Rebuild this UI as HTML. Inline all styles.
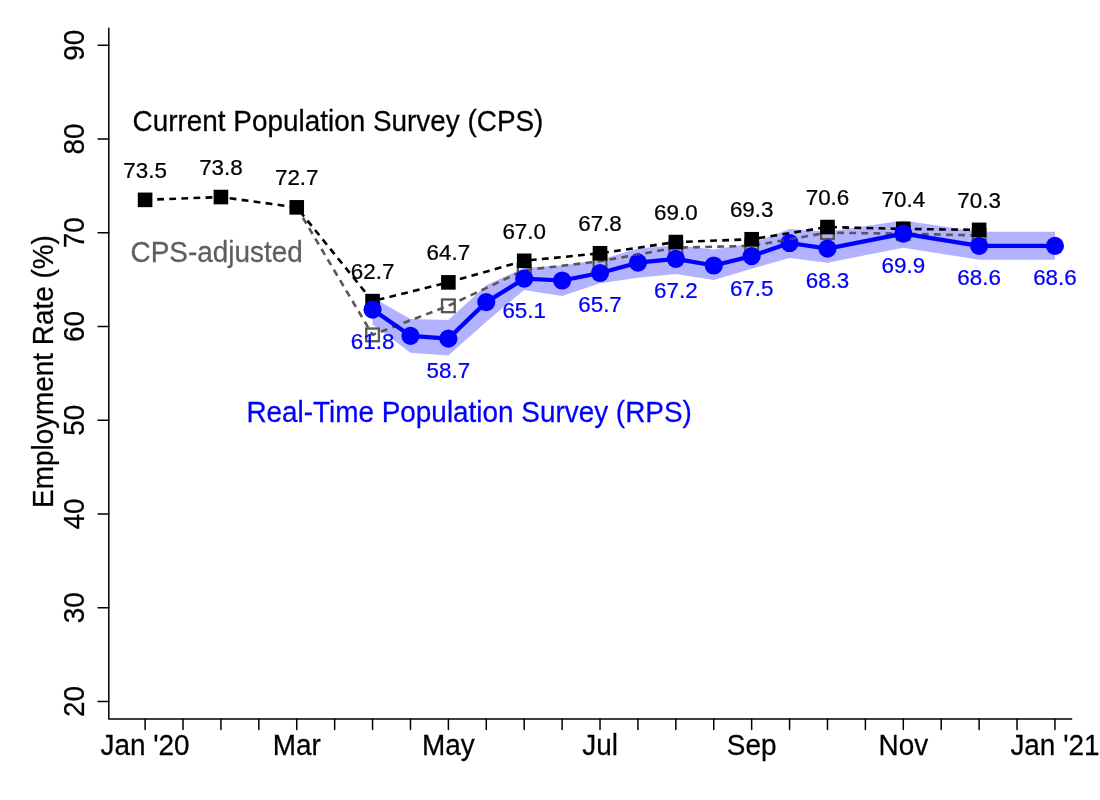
<!DOCTYPE html>
<html lang="en">
<head>
<meta charset="utf-8">
<title>Employment Rate: CPS vs RPS</title>
<style>
html,body{margin:0;padding:0;background:#fff;}
body{width:1100px;height:800px;overflow:hidden;}
svg{display:block;will-change:transform;}
text{font-family:"Liberation Sans", Arial, Helvetica, sans-serif;}
.ax{font-size:27.9px;fill:#000;stroke:#000;stroke-width:0.25px;}
.dl{font-size:22.4px;text-anchor:middle;stroke-width:0.25px;}
</style>
</head>
<body>
<svg width="1100" height="800" viewBox="0 0 1100 800">
<polygon fill="#0000ff" fill-opacity="0.3" points="372.56,297.38 410.47,318.94 448.38,319.88 486.29,285.19 524.2,267.84 562.11,265.5 600.02,259.87 637.93,248.62 675.84,245.34 713.75,249.56 751.66,243.46 789.57,228.93 827.48,231.74 903.3,220.49 979.12,231.74 1054.94,231.74 1054.94,259.87 979.12,259.87 903.3,247.68 827.48,262.68 789.57,258 751.66,268.78 713.75,280.03 675.84,273.94 637.93,277.69 600.02,283.31 562.11,295.97 524.2,289.88 486.29,321.76 448.38,355.51 410.47,352.7 372.56,324.57"/>
<polyline fill="none" stroke="#575757" stroke-width="2.6" stroke-dasharray="6.8 5.3" stroke-linecap="butt" stroke-linejoin="round" points="296.74,207.36 372.56,334.88 448.38,305.82 524.2,270.19 600.02,261.28 675.84,247.68 751.66,245.81 827.48,232.68 903.3,233.62 979.12,235.49"/>
<rect x="366.21" y="328.53" width="12.7" height="12.7" fill="none" stroke="#575757" stroke-width="2.3"/>
<rect x="442.03" y="299.47" width="12.7" height="12.7" fill="none" stroke="#575757" stroke-width="2.3"/>
<rect x="517.85" y="263.84" width="12.7" height="12.7" fill="none" stroke="#575757" stroke-width="2.3"/>
<rect x="593.67" y="254.93" width="12.7" height="12.7" fill="none" stroke="#575757" stroke-width="2.3"/>
<rect x="669.49" y="241.33" width="12.7" height="12.7" fill="none" stroke="#575757" stroke-width="2.3"/>
<rect x="745.31" y="239.46" width="12.7" height="12.7" fill="none" stroke="#575757" stroke-width="2.3"/>
<rect x="821.13" y="226.33" width="12.7" height="12.7" fill="none" stroke="#575757" stroke-width="2.3"/>
<rect x="896.95" y="227.27" width="12.7" height="12.7" fill="none" stroke="#575757" stroke-width="2.3"/>
<rect x="972.77" y="229.14" width="12.7" height="12.7" fill="none" stroke="#575757" stroke-width="2.3"/>
<polyline fill="none" stroke="#000" stroke-width="2.6" stroke-dasharray="6.8 5.3" stroke-linecap="butt" stroke-linejoin="round" points="145.1,199.86 220.92,197.05 296.74,207.36 372.56,301.13 448.38,282.37 524.2,260.81 600.02,253.31 675.84,242.06 751.66,239.24 827.48,227.05 903.3,228.93 979.12,229.87"/>
<rect x="137.8" y="192.56" width="14.6" height="14.6" fill="#000"/>
<rect x="213.62" y="189.75" width="14.6" height="14.6" fill="#000"/>
<rect x="289.44" y="200.06" width="14.6" height="14.6" fill="#000"/>
<rect x="365.26" y="293.83" width="14.6" height="14.6" fill="#000"/>
<rect x="441.08" y="275.07" width="14.6" height="14.6" fill="#000"/>
<rect x="516.9" y="253.51" width="14.6" height="14.6" fill="#000"/>
<rect x="592.72" y="246.01" width="14.6" height="14.6" fill="#000"/>
<rect x="668.54" y="234.76" width="14.6" height="14.6" fill="#000"/>
<rect x="744.36" y="231.94" width="14.6" height="14.6" fill="#000"/>
<rect x="820.18" y="219.75" width="14.6" height="14.6" fill="#000"/>
<rect x="896" y="221.63" width="14.6" height="14.6" fill="#000"/>
<rect x="971.82" y="222.57" width="14.6" height="14.6" fill="#000"/>
<polyline fill="none" stroke="#0000ff" stroke-width="4.25" stroke-linecap="round" stroke-linejoin="round" points="372.56,309.57 410.47,335.82 448.38,338.63 486.29,302.07 524.2,278.62 562.11,280.5 600.02,273 637.93,262.68 675.84,258.93 713.75,265.5 751.66,256.12 789.57,242.99 827.48,248.62 903.3,233.62 979.12,245.81 1054.94,245.81"/>
<circle cx="372.56" cy="309.57" r="9.1" fill="#0000ff"/>
<circle cx="410.47" cy="335.82" r="9.1" fill="#0000ff"/>
<circle cx="448.38" cy="338.63" r="9.1" fill="#0000ff"/>
<circle cx="486.29" cy="302.07" r="9.1" fill="#0000ff"/>
<circle cx="524.2" cy="278.62" r="9.1" fill="#0000ff"/>
<circle cx="562.11" cy="280.5" r="9.1" fill="#0000ff"/>
<circle cx="600.02" cy="273" r="9.1" fill="#0000ff"/>
<circle cx="637.93" cy="262.68" r="9.1" fill="#0000ff"/>
<circle cx="675.84" cy="258.93" r="9.1" fill="#0000ff"/>
<circle cx="713.75" cy="265.5" r="9.1" fill="#0000ff"/>
<circle cx="751.66" cy="256.12" r="9.1" fill="#0000ff"/>
<circle cx="789.57" cy="242.99" r="9.1" fill="#0000ff"/>
<circle cx="827.48" cy="248.62" r="9.1" fill="#0000ff"/>
<circle cx="903.3" cy="233.62" r="9.1" fill="#0000ff"/>
<circle cx="979.12" cy="245.81" r="9.1" fill="#0000ff"/>
<circle cx="1054.94" cy="245.81" r="9.1" fill="#0000ff"/>
<clipPath id="dots"><circle cx="637.93" cy="262.68" r="9.1"/><circle cx="789.57" cy="242.99" r="9.1"/></clipPath>
<polyline clip-path="url(#dots)" opacity="0.55" fill="none" stroke="#6b6b3a" stroke-width="2.6" stroke-dasharray="6.8 5.3" stroke-linecap="butt" stroke-linejoin="round" points="296.74,207.36 372.56,334.88 448.38,305.82 524.2,270.19 600.02,261.28 675.84,247.68 751.66,245.81 827.48,232.68 903.3,233.62 979.12,235.49"/>
<text class="dl" transform="translate(145.1,177.76) scale(1,0.98)" fill="#000" stroke="#000">73.5</text>
<text class="dl" transform="translate(220.92,174.95) scale(1,0.98)" fill="#000" stroke="#000">73.8</text>
<text class="dl" transform="translate(296.74,185.26) scale(1,0.98)" fill="#000" stroke="#000">72.7</text>
<text class="dl" transform="translate(372.56,279.03) scale(1,0.98)" fill="#000" stroke="#000">62.7</text>
<text class="dl" transform="translate(448.38,260.27) scale(1,0.98)" fill="#000" stroke="#000">64.7</text>
<text class="dl" transform="translate(524.2,238.71) scale(1,0.98)" fill="#000" stroke="#000">67.0</text>
<text class="dl" transform="translate(600.02,231.21) scale(1,0.98)" fill="#000" stroke="#000">67.8</text>
<text class="dl" transform="translate(675.84,219.96) scale(1,0.98)" fill="#000" stroke="#000">69.0</text>
<text class="dl" transform="translate(751.66,217.14) scale(1,0.98)" fill="#000" stroke="#000">69.3</text>
<text class="dl" transform="translate(827.48,204.95) scale(1,0.98)" fill="#000" stroke="#000">70.6</text>
<text class="dl" transform="translate(903.3,206.83) scale(1,0.98)" fill="#000" stroke="#000">70.4</text>
<text class="dl" transform="translate(979.12,207.77) scale(1,0.98)" fill="#000" stroke="#000">70.3</text>
<text class="dl" transform="translate(372.56,348.97) scale(1,0.98)" fill="#0000ff" stroke="#0000ff">61.8</text>
<text class="dl" transform="translate(448.38,378.03) scale(1,0.98)" fill="#0000ff" stroke="#0000ff">58.7</text>
<text class="dl" transform="translate(524.2,318.02) scale(1,0.98)" fill="#0000ff" stroke="#0000ff">65.1</text>
<text class="dl" transform="translate(600.02,312.4) scale(1,0.98)" fill="#0000ff" stroke="#0000ff">65.7</text>
<text class="dl" transform="translate(675.84,298.33) scale(1,0.98)" fill="#0000ff" stroke="#0000ff">67.2</text>
<text class="dl" transform="translate(751.66,295.52) scale(1,0.98)" fill="#0000ff" stroke="#0000ff">67.5</text>
<text class="dl" transform="translate(827.48,288.02) scale(1,0.98)" fill="#0000ff" stroke="#0000ff">68.3</text>
<text class="dl" transform="translate(903.3,273.02) scale(1,0.98)" fill="#0000ff" stroke="#0000ff">69.9</text>
<text class="dl" transform="translate(979.12,285.21) scale(1,0.98)" fill="#0000ff" stroke="#0000ff">68.6</text>
<text class="dl" transform="translate(1054.94,285.21) scale(1,0.98)" fill="#0000ff" stroke="#0000ff">68.6</text>
<text class="ax" transform="translate(132.6,131.4) scale(1,1.03)">Current Population Survey (CPS)</text>
<text class="ax" transform="translate(130.6,261.6) scale(1,1.03)" style="fill:#5e5e5e;stroke:#5e5e5e">CPS-adjusted</text>
<text class="ax" transform="translate(246.4,422.4) scale(1,1.03)" style="fill:#0000ff;stroke:#0000ff">Real-Time Population Survey (RPS)</text>
<g stroke="#000" stroke-width="1.5" fill="none" stroke-linecap="round" stroke-linejoin="round">
<path d="M108.8,28.3 V718.9 H1071.6"/>
<path d="M98.1,701.5 H108.8"/>
<path d="M98.1,607.74 H108.8"/>
<path d="M98.1,513.97 H108.8"/>
<path d="M98.1,420.21 H108.8"/>
<path d="M98.1,326.44 H108.8"/>
<path d="M98.1,232.68 H108.8"/>
<path d="M98.1,138.92 H108.8"/>
<path d="M98.1,45.15 H108.8"/>
<path d="M145.1,718.9 V729.4"/>
<path d="M183.01,718.9 V729.4"/>
<path d="M220.92,718.9 V729.4"/>
<path d="M258.83,718.9 V729.4"/>
<path d="M296.74,718.9 V729.4"/>
<path d="M334.65,718.9 V729.4"/>
<path d="M372.56,718.9 V729.4"/>
<path d="M410.47,718.9 V729.4"/>
<path d="M448.38,718.9 V729.4"/>
<path d="M486.29,718.9 V729.4"/>
<path d="M524.2,718.9 V729.4"/>
<path d="M562.11,718.9 V729.4"/>
<path d="M600.02,718.9 V729.4"/>
<path d="M637.93,718.9 V729.4"/>
<path d="M675.84,718.9 V729.4"/>
<path d="M713.75,718.9 V729.4"/>
<path d="M751.66,718.9 V729.4"/>
<path d="M789.57,718.9 V729.4"/>
<path d="M827.48,718.9 V729.4"/>
<path d="M865.39,718.9 V729.4"/>
<path d="M903.3,718.9 V729.4"/>
<path d="M941.21,718.9 V729.4"/>
<path d="M979.12,718.9 V729.4"/>
<path d="M1017.03,718.9 V729.4"/>
<path d="M1054.94,718.9 V729.4"/>
</g>
<text class="ax" text-anchor="middle" transform="translate(83.6,701.5) rotate(-90) scale(1,1.03)">20</text>
<text class="ax" text-anchor="middle" transform="translate(83.6,607.74) rotate(-90) scale(1,1.03)">30</text>
<text class="ax" text-anchor="middle" transform="translate(83.6,513.97) rotate(-90) scale(1,1.03)">40</text>
<text class="ax" text-anchor="middle" transform="translate(83.6,420.21) rotate(-90) scale(1,1.03)">50</text>
<text class="ax" text-anchor="middle" transform="translate(83.6,326.44) rotate(-90) scale(1,1.03)">60</text>
<text class="ax" text-anchor="middle" transform="translate(83.6,232.68) rotate(-90) scale(1,1.03)">70</text>
<text class="ax" text-anchor="middle" transform="translate(83.6,138.92) rotate(-90) scale(1,1.03)">80</text>
<text class="ax" text-anchor="middle" transform="translate(83.6,45.15) rotate(-90) scale(1,1.03)">90</text>
<text class="ax" text-anchor="middle" transform="translate(53,371.5) rotate(-90) scale(1,1.03)">Employment Rate (%)</text>
<text class="ax" text-anchor="middle" transform="translate(145.1,755.3) scale(1,1.03)">Jan '20</text>
<text class="ax" text-anchor="middle" transform="translate(296.74,755.3) scale(1,1.03)">Mar</text>
<text class="ax" text-anchor="middle" transform="translate(448.38,755.3) scale(1,1.03)">May</text>
<text class="ax" text-anchor="middle" transform="translate(600.02,755.3) scale(1,1.03)">Jul</text>
<text class="ax" text-anchor="middle" transform="translate(751.66,755.3) scale(1,1.03)">Sep</text>
<text class="ax" text-anchor="middle" transform="translate(903.3,755.3) scale(1,1.03)">Nov</text>
<text class="ax" text-anchor="middle" transform="translate(1054.94,755.3) scale(1,1.03)">Jan '21</text>
</svg>
</body>
</html>
